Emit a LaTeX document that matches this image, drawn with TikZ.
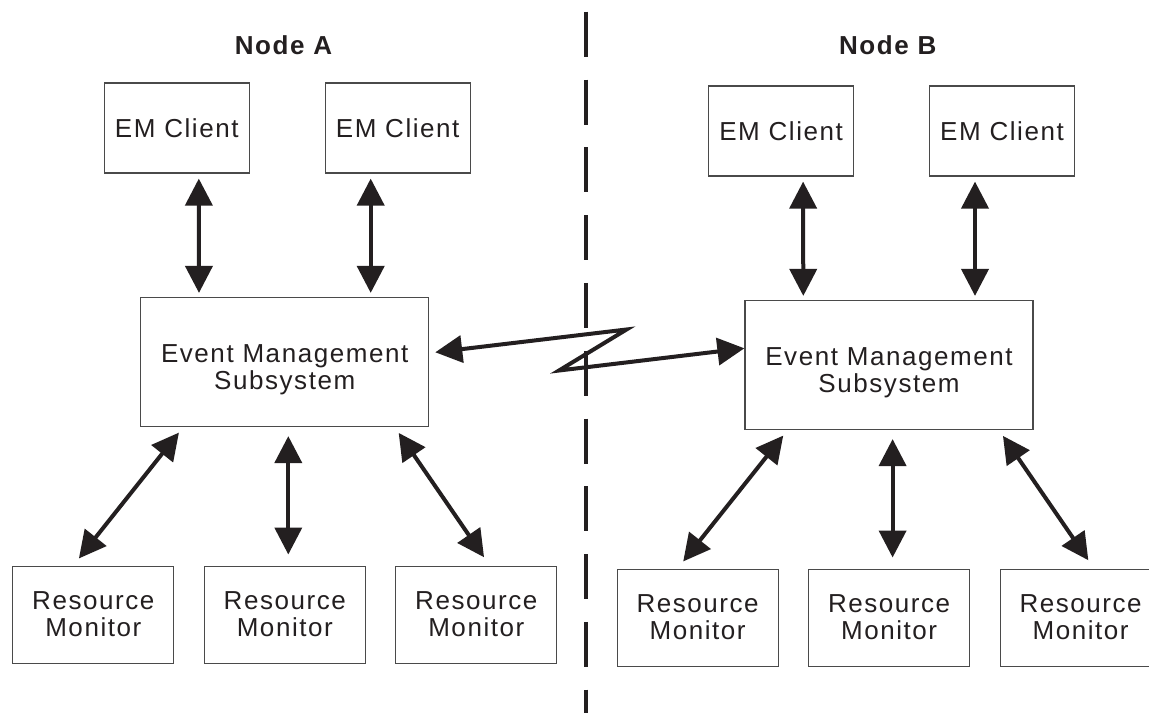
\documentclass[tikz,border=0pt]{standalone}
\usepackage{fontspec}
\setmainfont{Liberation Sans}[LetterSpace=6]
\usetikzlibrary{arrows.meta}
\definecolor{ink}{HTML}{231F20}
\definecolor{edge}{HTML}{4A4A4A}
\newcommand{\BoxF}{\fontsize{26}{27}\selectfont}
\newcommand{\HeadF}{\fontsize{26}{30}\selectfont\bfseries}
\tikzset{
  box/.style={draw=edge, line width=1.2pt, inner sep=0pt, align=center, text=ink, font=\BoxF},
  client/.style={box, minimum width=145pt, minimum height=90pt},
  subsys/.style={box, minimum width=288pt, minimum height=129pt, text height=61pt},
  monitor/.style={box, minimum width=161pt, minimum height=97pt},
  tip/.tip={Triangle[length=27pt,width=27pt]},
  link/.style={ink, line width=4pt, tip-tip},
  divider/.style={ink, line width=4pt, dash pattern=on 45pt off 22.8pt},
}
% one side of the cluster: #1 name, #2/#3 offset, #4 heading
\newcommand{\nodeside}[4]{%
  \node[font=\HeadF, text=ink] (head#1) at (283.5+#2,45) {#4};
  \node[client] (c#1a) at (176.8+#2,128+#3) {EM Client};
  \node[client] (c#1b) at (397.7+#2,128+#3) {EM Client};
  \node[subsys] (ems#1) at (284.7+#2,362+#3) {Event Management\\Subsystem};
  \node[monitor] (rm#1a) at (93.3+#2,614.6+#3) {Resource\\Monitor};
  \node[monitor] (rm#1b) at (284.8+#2,614.6+#3) {Resource\\Monitor};
  \node[monitor] (rm#1c) at (476.3+#2,614.6+#3) {Resource\\Monitor};
  \draw[link, shorten <=5pt, shorten >=4pt] ([xshift=22pt]c#1a.south) -- ([xshift=-85.7pt]ems#1.north);
  \draw[link, shorten <=5pt, shorten >=4pt] ([xshift=-27pt]c#1b.south) -- ([xshift=86pt]ems#1.north);
  \draw[link, shorten <=7pt, shorten >=9pt] ([xshift=-101.4pt]ems#1.south) -- ([xshift=-20pt]rm#1a.north);
  \draw[link, shorten <=9pt, shorten >=11pt] ([xshift=3.6pt]ems#1.south) -- ([xshift=3.5pt]rm#1b.north);
  \draw[link, shorten <=7pt, shorten >=10pt] ([xshift=110pt]ems#1.south) -- ([xshift=13.4pt]rm#1c.north);
}

\begin{document}
\begin{tikzpicture}[x=1pt,y=-1pt]
\fill[white] (0,0) rectangle (1149,713);
\useasboundingbox (0,0) rectangle (1149,713);
\nodeside{A}{0}{0}{Node A}
\nodeside{B}{604.3}{3}{Node B}
% split between the two nodes
\coordinate (divTop) at (586,11.7);
\coordinate (divBot) at (586,713);
\draw[divider] (divTop) -- (divBot);
% link across the split
\coordinate (zTop) at (626.5,329.5);
\coordinate (zBot) at (559,370.5);
\draw[link, line join=miter, shorten <=6pt] ([yshift=9pt]emsA.east) -- (zTop) -- (zBot) -- ([yshift=16.7pt]emsB.west);
\end{tikzpicture}
\end{document}
